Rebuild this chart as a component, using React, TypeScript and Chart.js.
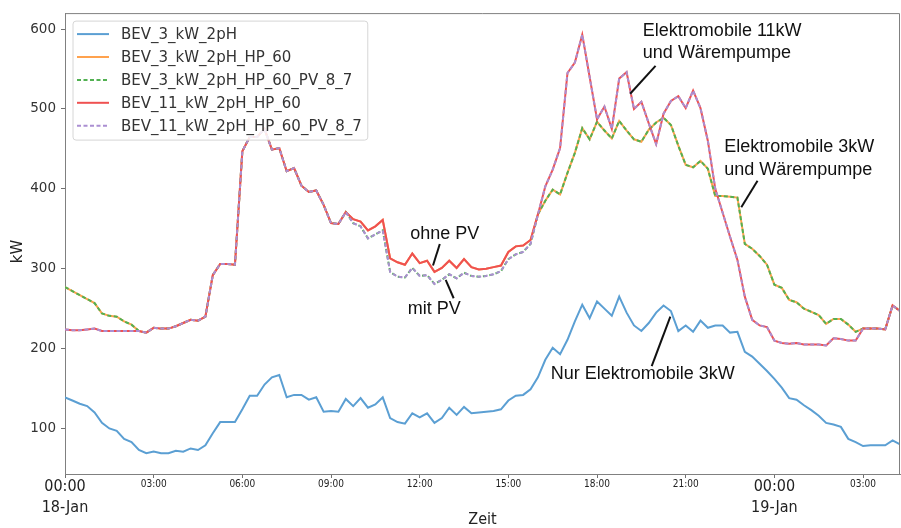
import React, { useEffect, useRef } from 'react';
import { Chart, registerables } from 'chart.js';

Chart.register(...registerables);

// 15-minute steps starting 18-Jan 00:00
const STEP_HOURS = 0.25;

const bev3 = [
  139, 135, 131, 128, 120, 107, 100, 97, 87, 83,
  73, 69, 71, 69, 69, 72, 71, 75, 73, 79,
  94, 108, 108, 108, 124, 141, 141, 155, 164, 167,
  139, 142, 142, 136, 139, 121, 122, 121, 137, 128,
  138, 126, 130, 139, 113, 108, 106, 119, 114, 119,
  107, 113, 126, 117, 127, 119, 120, 121, 122, 124,
  135, 141, 142, 149, 164, 186, 201, 193, 211, 234,
  255, 238, 259, 250, 241, 265, 245, 229, 222, 232,
  245, 254, 247, 222, 229, 221, 235, 226, 229, 229,
  220, 221, 196, 190, 181, 172, 162, 151, 138, 136,
  129, 123, 116, 107, 105, 102, 87, 83, 78, 79,
  79, 79, 85, 80,
];

const bev3Hp = [
  277, 272, 267, 262, 257, 244, 241, 240, 234, 230,
  222, 220, 226, 225, 225, 228, 232, 236, 235, 240,
  292, 306, 306, 305, 447, 465, 465, 475, 449, 451,
  422, 426, 404, 396, 398, 380, 357, 356, 371, 362,
  359, 348, 353, 361, 313, 308, 305, 319, 307, 310,
  296, 301, 310, 301, 312, 302, 299, 300, 302, 304,
  321, 328, 329, 336, 368, 385, 399, 393, 420, 445,
  476, 462, 484, 473, 463, 485, 473, 462, 459, 474,
  483, 489, 480, 454, 430, 427, 435, 425, 391, 391,
  390, 389, 331, 325, 316, 305, 280, 276, 261, 258,
  250, 246, 242, 231, 237, 237, 230, 221, 225, 225,
  225, 224, 254, 247,
];

const bev3HpPv = [
  277, 272, 267, 262, 257, 244, 241, 240, 234, 230,
  222, 220, 226, 225, 225, 228, 232, 236, 235, 240,
  292, 306, 306, 305, 447, 465, 465, 475, 449, 451,
  422, 426, 404, 396, 398, 380, 357, 356, 371, 357,
  353, 338, 343, 348, 296, 290, 289, 301, 291, 292,
  281, 286, 293, 288, 295, 291, 290, 291, 293, 297,
  312, 318, 321, 331, 368, 385, 399, 393, 420, 445,
  476, 462, 484, 473, 463, 485, 473, 462, 459, 474,
  483, 489, 480, 454, 430, 427, 435, 425, 391, 391,
  390, 389, 331, 325, 316, 305, 280, 276, 261, 258,
  250, 246, 242, 231, 237, 237, 230, 221, 225, 225,
  225, 224, 254, 247,
];

const bev11Hp = [
  224, 223, 223, 224, 225, 222, 222, 222, 222, 222,
  222, 220, 226, 225, 225, 228, 232, 236, 235, 240,
  292, 306, 306, 305, 447, 465, 465, 475, 449, 451,
  422, 426, 404, 396, 398, 380, 357, 356, 371, 362,
  359, 348, 353, 361, 313, 308, 305, 319, 307, 310,
  296, 301, 310, 301, 312, 302, 299, 300, 302, 304,
  321, 328, 329, 336, 368, 403, 424, 451, 545, 558,
  593, 540, 487, 503, 475, 538, 546, 500, 509, 482,
  456, 494, 510, 516, 501, 523, 501, 460, 400, 370,
  340, 311, 265, 236, 229, 227, 210, 207, 206, 207,
  205, 205, 205, 204, 213, 212, 210, 210, 225, 225,
  225, 224, 254, 247,
];

const bev11HpPv = [
  224, 223, 223, 224, 225, 222, 222, 222, 222, 222,
  222, 220, 226, 225, 225, 228, 232, 236, 235, 240,
  292, 306, 306, 305, 447, 465, 465, 475, 449, 451,
  422, 426, 404, 396, 398, 380, 357, 356, 371, 357,
  353, 338, 343, 348, 296, 290, 289, 301, 291, 292,
  281, 286, 293, 288, 295, 291, 290, 291, 293, 297,
  312, 318, 321, 331, 368, 403, 424, 451, 545, 558,
  593, 540, 487, 503, 475, 538, 546, 500, 509, 482,
  456, 494, 510, 516, 501, 523, 501, 460, 400, 370,
  340, 311, 265, 236, 229, 227, 210, 207, 206, 207,
  205, 205, 205, 204, 213, 212, 210, 210, 225, 225,
  225, 224, 254, 247,
];

const seriesLabels = [
  'BEV_3_kW_2pH',
  'BEV_3_kW_2pH_HP_60',
  'BEV_3_kW_2pH_HP_60_PV_8_7',
  'BEV_11_kW_2pH_HP_60',
  'BEV_11_kW_2pH_HP_60_PV_8_7',
];
const seriesColors = ['#5b9fd3', '#ffa24e', '#52b152', '#ef5151', '#ab8fd2'];
const seriesDashed = [false, false, true, false, true];

const xTickHours = [0, 3, 6, 9, 12, 15, 18, 21, 24, 27];
const xTickLabels = ['00:00', '03:00', '06:00', '09:00', '12:00', '15:00', '18:00', '21:00', '00:00', '03:00'];
const dayLabels: Record<number, string> = { 0: '18-Jan', 24: '19-Jan' };
const yTicks = [100, 200, 300, 400, 500, 600];
const xTitle = 'Zeit';
const yTitle = 'kW';

// annotation texts, anchored in data space (hours, kW)
const annotations = [
  { lines: ['Elektromobile 11kW', 'und Wärempumpe'], x: 19.55, ys: [597, 570], from: [19.98, 554], to: [19.12, 519] },
  { lines: ['Elektromobile 3kW', 'und Wärempumpe'], x: 22.3, ys: [452, 424], from: [23.43, 410], to: [22.88, 377] },
  { lines: ['ohne PV'], x: 11.68, ys: [344], from: [12.68, 331], to: [12.45, 304] },
  { lines: ['mit PV'], x: 11.6, ys: [250], from: [13.15, 263], to: [12.88, 286] },
  { lines: ['Nur Elektromobile 3kW'], x: 16.43, ys: [168], from: [19.85, 178], to: [20.48, 240] },
];

const COND = "'DejaVu Sans Condensed', 'Liberation Sans Narrow', 'DejaVu Sans', sans-serif";

export default function App() {
  const ref = useRef<HTMLCanvasElement>(null);

  useEffect(() => {
    const canvas = ref.current;
    if (!canvas) return;
    const all = [bev3, bev3Hp, bev3HpPv, bev11Hp, bev11HpPv];

    const framePlugin = {
      id: 'frame',
      afterDraw(chart: any) {
        const { ctx, chartArea: a } = chart;
        ctx.save();
        ctx.strokeStyle = '#808080';
        ctx.lineWidth = 1;
        ctx.beginPath();
        ctx.moveTo(a.left, a.top + 0.5);
        ctx.lineTo(a.right - 0.5, a.top + 0.5);
        ctx.lineTo(a.right - 0.5, a.bottom);
        ctx.stroke();
        ctx.restore();
      },
    };

    const annotationPlugin = {
      id: 'annot',
      afterDatasetsDraw(chart: any) {
        const { ctx } = chart;
        const xs = chart.scales.x;
        const ys = chart.scales.y;
        ctx.save();
        ctx.fillStyle = '#111';
        ctx.strokeStyle = '#111';
        ctx.lineWidth = 2;
        ctx.font = "18px 'Liberation Sans', Arial, sans-serif";
        ctx.textBaseline = 'middle';
        ctx.textAlign = 'left';
        annotations.forEach((an) => {
          an.lines.forEach((t, k) => {
            ctx.fillText(t, xs.getPixelForValue(an.x), ys.getPixelForValue(an.ys[k]));
          });
          ctx.beginPath();
          ctx.moveTo(xs.getPixelForValue(an.from[0]), ys.getPixelForValue(an.from[1]));
          ctx.lineTo(xs.getPixelForValue(an.to[0]), ys.getPixelForValue(an.to[1]));
          ctx.stroke();
        });
        ctx.restore();
      },
    };

    const legendPlugin = {
      id: 'mplLegend',
      afterDatasetsDraw(chart: any) {
        const { ctx, chartArea: a } = chart;
        ctx.save();
        ctx.font = "15px 'DejaVu Sans', sans-serif";
        let maxW = 0;
        seriesLabels.forEach((l) => { maxW = Math.max(maxW, ctx.measureText(l).width); });
        const left = a.left + 8;
        const top = a.top + 8;
        const w = 48 + maxW + 6;
        const h = 119;
        const r = 3;
        ctx.beginPath();
        ctx.moveTo(left + r, top);
        ctx.lineTo(left + w - r, top);
        ctx.quadraticCurveTo(left + w, top, left + w, top + r);
        ctx.lineTo(left + w, top + h - r);
        ctx.quadraticCurveTo(left + w, top + h, left + w - r, top + h);
        ctx.lineTo(left + r, top + h);
        ctx.quadraticCurveTo(left, top + h, left, top + h - r);
        ctx.lineTo(left, top + r);
        ctx.quadraticCurveTo(left, top, left + r, top);
        ctx.closePath();
        ctx.fillStyle = 'rgba(255,255,255,0.85)';
        ctx.fill();
        ctx.strokeStyle = '#d6d6d6';
        ctx.lineWidth = 1;
        ctx.stroke();
        seriesLabels.forEach((l, i) => {
          const y = top + 13 + i * 22.9;
          ctx.strokeStyle = seriesColors[i];
          ctx.lineWidth = 2;
          ctx.setLineDash(seriesDashed[i] ? [4, 2.5] : []);
          ctx.beginPath();
          ctx.moveTo(left + 4, y);
          ctx.lineTo(left + 36, y);
          ctx.stroke();
          ctx.setLineDash([]);
          ctx.fillStyle = '#333';
          ctx.textBaseline = 'middle';
          ctx.textAlign = 'left';
          ctx.fillText(l, left + 48, y + 1);
        });
        ctx.restore();
      },
    };

    const axisTextPlugin = {
      id: 'axisText',
      afterDraw(chart: any) {
        const { ctx, chartArea: a } = chart;
        const xs = chart.scales.x;
        ctx.save();
        ctx.fillStyle = '#222';
        ctx.textAlign = 'center';
        ctx.textBaseline = 'middle';
        xTickHours.forEach((h, i) => {
          const px = xs.getPixelForValue(h);
          if (dayLabels[h] !== undefined) {
            ctx.font = `16px ${COND}`;
            ctx.fillText(xTickLabels[i], px, a.bottom + 13);
            ctx.fillText(dayLabels[h], px, a.bottom + 34);
          } else {
            ctx.font = `10px ${COND}`;
            ctx.fillText(xTickLabels[i], px, a.bottom + 10);
          }
        });
        ctx.font = `16px ${COND}`;
        ctx.fillText(xTitle, (a.left + a.right) / 2 + 0, a.bottom + 46);
        ctx.translate(18, (a.top + a.bottom) / 2 + 8);
        ctx.rotate(-Math.PI / 2);
        ctx.font = "15px 'DejaVu Sans', sans-serif";
        ctx.fillText(yTitle, 0, 0);
        ctx.restore();
      },
    };

    const chart = new Chart(canvas, {
      type: 'line',
      data: {
        datasets: all.map((vals, i) => ({
          label: seriesLabels[i],
          data: vals.map((v, k) => ({ x: k * STEP_HOURS, y: v })),
          borderColor: seriesColors[i],
          backgroundColor: seriesColors[i],
          borderWidth: 2,
          borderDash: seriesDashed[i] ? [4, 2.5] : [],
          pointRadius: 0,
          tension: 0,
          fill: false,
          order: 4 - i,
        })),
      },
      options: {
        responsive: false,
        animation: false,
        events: [],
        layout: { padding: { left: 0, right: 1, top: 9, bottom: 0 } },
        plugins: { legend: { display: false }, tooltip: { enabled: false }, title: { display: false } },
        scales: {
          x: {
            type: 'linear',
            min: 0,
            max: 113 * STEP_HOURS,
            afterBuildTicks: (s: any) => { s.ticks = xTickHours.map((v) => ({ value: v })); },
            afterFit: (s: any) => { s.height = 54; },
            ticks: { display: false },
            grid: { display: true, drawOnChartArea: false, drawTicks: true, tickLength: 4, color: '#707070' },
            border: { display: true, color: '#808080', width: 1 },
          },
          y: {
            type: 'linear',
            min: 43,
            max: 620,
            afterBuildTicks: (s: any) => { s.ticks = yTicks.map((v) => ({ value: v })); },
            afterFit: (s: any) => { s.width = 65; },
            ticks: { font: { family: "'DejaVu Sans', sans-serif", size: 13.5 }, color: '#333', padding: 5 },
            grid: { display: true, drawOnChartArea: false, drawTicks: true, tickLength: 4, color: '#707070' },
            border: { display: true, color: '#808080', width: 1 },
          },
        },
      },
      plugins: [framePlugin, annotationPlugin, legendPlugin, axisTextPlugin],
    } as any);

    return () => chart.destroy();
  }, []);

  return (
    <div style={{ position: 'absolute', left: 0, top: 0, width: 901, height: 528, background: '#fff' }}>
      <canvas ref={ref} width={901} height={528} style={{ width: 901, height: 528, display: 'block' }} />
    </div>
  );
}
